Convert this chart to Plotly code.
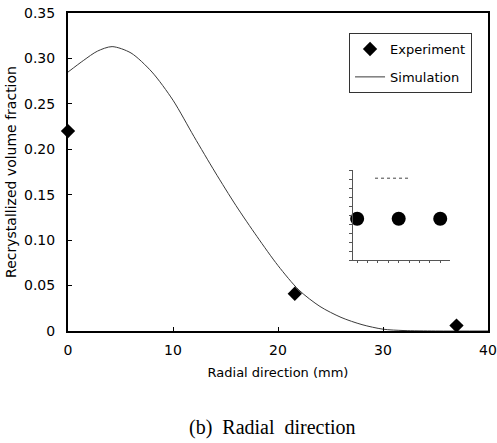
import plotly.graph_objects as go

# ---- data ----
exp_x = [0, 21.6, 37.0]
exp_y = [0.220, 0.041, 0.006]

sim_x = [0, 1.5, 2.8, 4.2, 6.0, 8.0, 10.0, 12.0, 14.0, 16.0, 18.0, 20.0,
         22.0, 24.0, 26.0, 28.0, 30.0, 32.0, 35.0, 40.0]
sim_y = [0.285, 0.298, 0.308, 0.313, 0.306, 0.285, 0.254, 0.214, 0.175, 0.138,
         0.104, 0.072, 0.045, 0.027, 0.015, 0.007, 0.002, 0.0005, 0.0, 0.0]

y_ticks = [0, 0.05, 0.10, 0.15, 0.20, 0.25, 0.30, 0.35]
y_tick_text = ["0", "0.05", "0.10", "0.15", "0.20", "0.25", "0.30", "0.35"]
x_ticks = [0, 10, 20, 30, 40]

# inset artefact (small embedded plot)
inset_pts_x = [0, 1, 2]
inset_pts_y = [0.46, 0.46, 0.46]
inset_line_x = [0.43, 1.23]
inset_line_y = [0.91, 0.91]

FONT = "DejaVu Sans"

fig = go.Figure()

fig.add_trace(go.Scatter(
    x=sim_x, y=sim_y, mode="lines", name="Simulation", legendgroup="sim",
    legendrank=2,
    line=dict(color="#3a3a3a", width=1, shape="spline", smoothing=0.8),
))
fig.add_trace(go.Scatter(
    x=exp_x, y=exp_y, mode="markers", name="Experiment", legendgroup="exp",
    legendrank=1,
    marker=dict(symbol="diamond", size=11, color="black"),
    cliponaxis=False,
))

# inset
fig.add_trace(go.Scatter(
    x=inset_pts_x, y=inset_pts_y, mode="markers", xaxis="x2", yaxis="y2",
    marker=dict(symbol="circle", size=14, color="black"), showlegend=False,
    cliponaxis=False,
))
fig.add_trace(go.Scatter(
    x=inset_line_x, y=inset_line_y, mode="lines", xaxis="x2", yaxis="y2",
    line=dict(color="#444444", width=1, dash="dot"), showlegend=False,
))

fig.update_layout(
    width=497, height=443,
    margin=dict(l=68, r=9, t=13, b=112),
    paper_bgcolor="white", plot_bgcolor="white",
    font=dict(family=FONT, size=14, color="black"),
    showlegend=True,
    legend=dict(
        x=0.962, y=0.937, xanchor="right", yanchor="top",
        bordercolor="#333333", borderwidth=1, bgcolor="white",
        font=dict(family=FONT, size=13),
        traceorder="grouped", itemwidth=30, tracegroupgap=8,
    ),
    xaxis=dict(
        range=[0, 40], tickvals=x_ticks, ticks="inside", ticklen=4,
        tickcolor="black", showline=True, linecolor="black", linewidth=2,
        mirror=True, showgrid=False, zeroline=False, automargin=False,
        tickfont=dict(family=FONT, size=14), ticklabelstandoff=5,
        title=dict(text="Radial direction (mm)", font=dict(family=FONT, size=13),
                   standoff=11),
    ),
    yaxis=dict(
        range=[0, 0.35], tickvals=y_ticks, ticktext=y_tick_text, ticks="inside",
        ticklen=4, tickcolor="black", showline=True, linecolor="black",
        linewidth=2, mirror=True, showgrid=False, zeroline=False,
        automargin=False,
        tickfont=dict(family=FONT, size=14), ticklabelstandoff=8,
        title=dict(text="Recrystallized volume fraction",
                   font=dict(family=FONT, size=14), standoff=4),
    ),
    xaxis2=dict(
        domain=[0.679, 0.910], anchor="y2", range=[-0.096, 2.24],
        showline=True, linecolor="#555555", linewidth=1, ticks="outside",
        ticklen=2, tickcolor="#555555", dtick=0.25, showticklabels=False,
        showgrid=False, zeroline=False, automargin=False,
    ),
    yaxis2=dict(
        domain=[0.223, 0.506], anchor="x2", range=[0, 1],
        showline=True, linecolor="#555555", linewidth=1, ticks="outside",
        ticklen=3, tickcolor="#555555", dtick=0.1, showticklabels=False,
        showgrid=False, zeroline=False, automargin=False,
    ),
    annotations=[dict(
        text="(b)&nbsp; Radial&nbsp; direction", xref="paper", yref="paper",
        x=0.486, y=-0.305, xanchor="center", yanchor="middle", showarrow=False,
        font=dict(family="Liberation Serif", size=20, color="black"),
    )],
)

fig.write_html("out.html")
